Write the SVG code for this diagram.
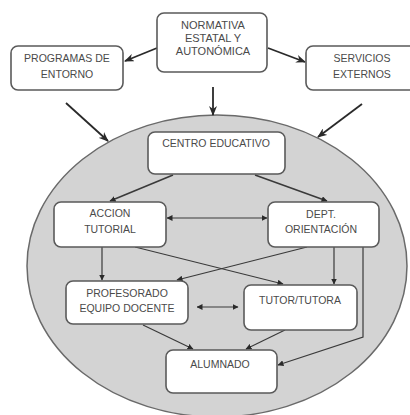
<svg xmlns="http://www.w3.org/2000/svg" width="410" height="415" viewBox="0 0 410 415">
<defs>
<style>
.box{fill:#fff;stroke:#5a5a5a;stroke-width:1.6}
.t{font-family:"Liberation Sans",Arial,sans-serif;font-size:10.5px;fill:#4a4a4a;text-anchor:middle}
.big{stroke:#2a2a2a;stroke-width:1.8;fill:none}
.sm{stroke:#3a3a3a;stroke-width:1.2;fill:none}
</style>
<marker id="ab" viewBox="0 0 10 8" refX="9" refY="4" markerWidth="10" markerHeight="8" markerUnits="userSpaceOnUse" orient="auto">
<path d="M0,0 L10,4 L0,8 L3,4 Z" fill="#2a2a2a"/>
</marker>
<marker id="as" viewBox="0 0 6 6" refX="5.5" refY="3" markerWidth="6" markerHeight="6" markerUnits="userSpaceOnUse" orient="auto-start-reverse">
<path d="M0,0 L6,3 L0,6 Z" fill="#2a2a2a"/>
</marker>
</defs>
<rect width="410" height="415" fill="#fff"/>
<ellipse cx="217" cy="266" rx="190" ry="151" fill="#d3d3d3" stroke="#6a6a6a" stroke-width="1.5"/>
<g id="connectors">
<line class="big" x1="157" y1="48" x2="125" y2="61" marker-end="url(#ab)"/>
<line class="big" x1="268" y1="48" x2="305" y2="62" marker-end="url(#ab)"/>
<line class="big" x1="213" y1="87" x2="213" y2="115" marker-end="url(#ab)"/>
<line class="big" x1="66" y1="103" x2="108" y2="141" marker-end="url(#ab)"/>
<line class="big" x1="362" y1="104" x2="318" y2="137" marker-end="url(#ab)"/>
<line class="sm" x1="173" y1="175" x2="110" y2="201" marker-end="url(#as)" style="stroke-width:1.6"/>
<line class="sm" x1="255" y1="175" x2="327" y2="201" marker-end="url(#as)" style="stroke-width:1.6"/>
<line class="sm" x1="167" y1="218" x2="267" y2="218" marker-start="url(#as)" marker-end="url(#as)"/>
<line class="sm" x1="102" y1="247" x2="102" y2="280" marker-end="url(#as)"/>
<line class="sm" x1="135" y1="247" x2="283" y2="284" marker-end="url(#as)"/>
<line class="sm" x1="307" y1="247" x2="177" y2="280" marker-end="url(#as)"/>
<line class="sm" x1="334" y1="247" x2="334" y2="284" marker-end="url(#as)"/>
<polyline class="sm" points="363,247 363,337 278,365" marker-end="url(#as)"/>
<line class="sm" x1="197" y1="307" x2="238" y2="307" marker-start="url(#as)" marker-end="url(#as)"/>
<line class="sm" x1="143" y1="325" x2="193" y2="349" marker-end="url(#as)"/>
<line class="sm" x1="285" y1="330" x2="246" y2="349" marker-end="url(#as)"/>
</g>
<g id="normativa">
<rect class="box" x="157" y="13" width="110" height="59" rx="7"/>
<text class="t" x="213" y="29" style="font-size:11px">NORMATIVA</text>
<text class="t" x="213" y="42" style="font-size:11px">ESTATAL Y</text>
<text class="t" x="213" y="55" style="font-size:11px">AUTONÓMICA</text>
</g>
<g id="programas">
<rect class="box" x="11" y="46" width="112" height="44" rx="7"/>
<text class="t" x="67" y="62">PROGRAMAS DE</text>
<text class="t" x="67" y="78">ENTORNO</text>
</g>
<g id="servicios">
<rect class="box" x="306" y="46" width="112" height="44" rx="7"/>
<text class="t" x="362" y="62">SERVICIOS</text>
<text class="t" x="362" y="78">EXTERNOS</text>
</g>
<g id="centro">
<rect class="box" x="148" y="132" width="137" height="42" rx="7"/>
<text class="t" x="216" y="147">CENTRO EDUCATIVO</text>
</g>
<g id="accion">
<rect class="box" x="54" y="202" width="112" height="45" rx="7"/>
<text class="t" x="110" y="217">ACCION</text>
<text class="t" x="110" y="233">TUTORIAL</text>
</g>
<g id="dept">
<rect class="box" x="268" y="202" width="111" height="45" rx="7"/>
<text class="t" x="321" y="218">DEPT.</text>
<text class="t" x="321" y="233">ORIENTACIÓN</text>
</g>
<g id="profesorado">
<rect class="box" x="66" y="281" width="122" height="43" rx="7"/>
<text class="t" x="127" y="297">PROFESORADO</text>
<text class="t" x="127" y="312">EQUIPO DOCENTE</text>
</g>
<g id="tutor">
<rect class="box" x="244" y="285" width="113" height="45" rx="7"/>
<text class="t" x="300" y="304">TUTOR/TUTORA</text>
</g>
<g id="alumnado">
<rect class="box" x="166" y="350" width="111" height="43" rx="7"/>
<text class="t" x="220" y="368">ALUMNADO</text>
</g>
</svg>
